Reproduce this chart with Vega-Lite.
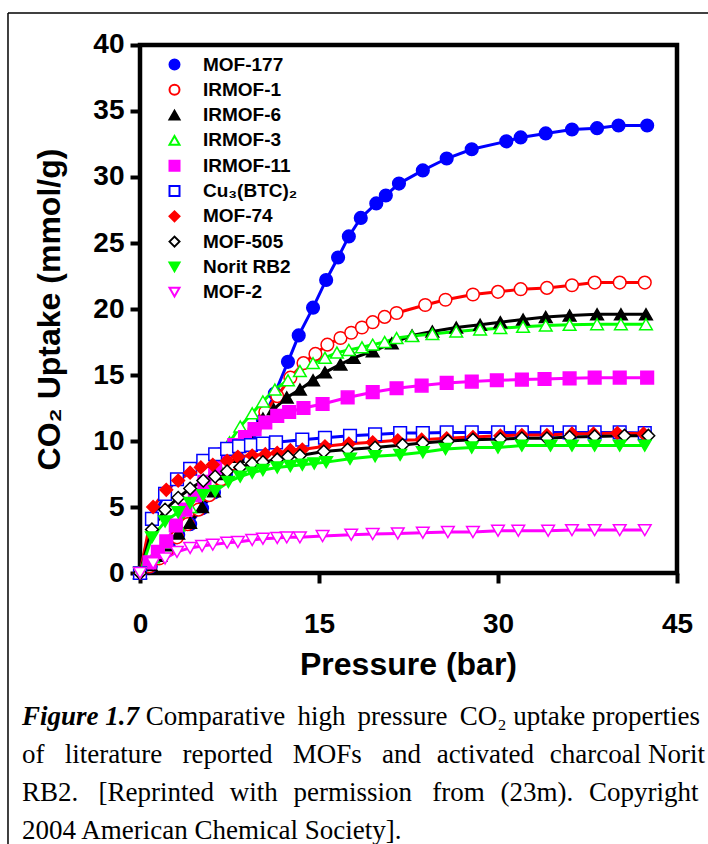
{
  "$schema": "https://vega.github.io/schema/vega-lite/v6.json",
  "width": 708,
  "height": 844,
  "autosize": {"type": "none"},
  "padding": 0,
  "background": "white",
  "config": {"view": {"stroke": null}},
  "datasets": {
    "iso": [
      {"s":"MOF-177","p":0,"u":0},{"s":"MOF-177","p":0.9,"u":0.5},{"s":"MOF-177","p":1.7,"u":1.2},{"s":"MOF-177","p":2.4,"u":2.0},{"s":"MOF-177","p":3.2,"u":2.9},{"s":"MOF-177","p":4.2,"u":3.7},{"s":"MOF-177","p":5.2,"u":4.9},{"s":"MOF-177","p":6.2,"u":6.1},{"s":"MOF-177","p":7.2,"u":7.4},{"s":"MOF-177","p":8.2,"u":8.7},{"s":"MOF-177","p":9.2,"u":10.1},{"s":"MOF-177","p":10.3,"u":11.6},{"s":"MOF-177","p":11.3,"u":13.6},{"s":"MOF-177","p":12.4,"u":16.0},{"s":"MOF-177","p":13.3,"u":18.0},{"s":"MOF-177","p":14.5,"u":20.1},{"s":"MOF-177","p":15.6,"u":22.2},{"s":"MOF-177","p":16.6,"u":23.9},{"s":"MOF-177","p":17.5,"u":25.5},{"s":"MOF-177","p":18.5,"u":26.9},{"s":"MOF-177","p":19.8,"u":28.0},{"s":"MOF-177","p":20.6,"u":28.6},{"s":"MOF-177","p":21.7,"u":29.5},{"s":"MOF-177","p":23.7,"u":30.5},{"s":"MOF-177","p":25.7,"u":31.4},{"s":"MOF-177","p":27.8,"u":32.1},{"s":"MOF-177","p":30.7,"u":32.7},{"s":"MOF-177","p":31.9,"u":33.0},{"s":"MOF-177","p":34.0,"u":33.3},{"s":"MOF-177","p":36.2,"u":33.6},{"s":"MOF-177","p":38.3,"u":33.7},{"s":"MOF-177","p":40.1,"u":33.9},{"s":"MOF-177","p":42.5,"u":33.9},
      {"s":"IRMOF-1","p":0,"u":0},{"s":"IRMOF-1","p":0.8,"u":0.5},{"s":"IRMOF-1","p":1.6,"u":1.1},{"s":"IRMOF-1","p":2.3,"u":1.8},{"s":"IRMOF-1","p":3.1,"u":2.7},{"s":"IRMOF-1","p":4.0,"u":3.7},{"s":"IRMOF-1","p":4.9,"u":4.8},{"s":"IRMOF-1","p":5.8,"u":5.9},{"s":"IRMOF-1","p":6.8,"u":7.1},{"s":"IRMOF-1","p":7.7,"u":8.3},{"s":"IRMOF-1","p":8.7,"u":9.6},{"s":"IRMOF-1","p":9.6,"u":10.9},{"s":"IRMOF-1","p":10.5,"u":12.2},{"s":"IRMOF-1","p":11.5,"u":13.4},{"s":"IRMOF-1","p":12.6,"u":14.8},{"s":"IRMOF-1","p":13.7,"u":15.9},{"s":"IRMOF-1","p":14.7,"u":16.6},{"s":"IRMOF-1","p":15.7,"u":17.3},{"s":"IRMOF-1","p":16.8,"u":17.8},{"s":"IRMOF-1","p":17.7,"u":18.2},{"s":"IRMOF-1","p":18.6,"u":18.6},{"s":"IRMOF-1","p":19.5,"u":19.0},{"s":"IRMOF-1","p":20.5,"u":19.4},{"s":"IRMOF-1","p":21.5,"u":19.7},{"s":"IRMOF-1","p":23.9,"u":20.3},{"s":"IRMOF-1","p":25.6,"u":20.7},{"s":"IRMOF-1","p":27.9,"u":21.1},{"s":"IRMOF-1","p":30.0,"u":21.3},{"s":"IRMOF-1","p":31.9,"u":21.5},{"s":"IRMOF-1","p":34.1,"u":21.6},{"s":"IRMOF-1","p":36.2,"u":21.8},{"s":"IRMOF-1","p":38.1,"u":22.0},{"s":"IRMOF-1","p":40.2,"u":22.0},{"s":"IRMOF-1","p":42.3,"u":22.0},
      {"s":"IRMOF-6","p":0,"u":0},{"s":"IRMOF-6","p":0.9,"u":0.6},{"s":"IRMOF-6","p":1.7,"u":1.3},{"s":"IRMOF-6","p":2.4,"u":2.1},{"s":"IRMOF-6","p":3.2,"u":3.0},{"s":"IRMOF-6","p":4.2,"u":3.8},{"s":"IRMOF-6","p":5.2,"u":5.0},{"s":"IRMOF-6","p":6.2,"u":6.2},{"s":"IRMOF-6","p":7.2,"u":7.5},{"s":"IRMOF-6","p":8.2,"u":8.8},{"s":"IRMOF-6","p":9.2,"u":10.2},{"s":"IRMOF-6","p":10.3,"u":11.7},{"s":"IRMOF-6","p":11.2,"u":12.4},{"s":"IRMOF-6","p":12.3,"u":13.3},{"s":"IRMOF-6","p":13.4,"u":13.9},{"s":"IRMOF-6","p":14.5,"u":14.6},{"s":"IRMOF-6","p":15.5,"u":15.2},{"s":"IRMOF-6","p":16.8,"u":15.8},{"s":"IRMOF-6","p":17.9,"u":16.3},{"s":"IRMOF-6","p":19.5,"u":16.8},{"s":"IRMOF-6","p":21.1,"u":17.4},{"s":"IRMOF-6","p":22.8,"u":18.0},{"s":"IRMOF-6","p":24.5,"u":18.3},{"s":"IRMOF-6","p":26.5,"u":18.6},{"s":"IRMOF-6","p":28.5,"u":18.8},{"s":"IRMOF-6","p":30.2,"u":19.0},{"s":"IRMOF-6","p":32.1,"u":19.2},{"s":"IRMOF-6","p":34.0,"u":19.4},{"s":"IRMOF-6","p":36.0,"u":19.5},{"s":"IRMOF-6","p":38.3,"u":19.6},{"s":"IRMOF-6","p":40.3,"u":19.6},{"s":"IRMOF-6","p":42.4,"u":19.6},
      {"s":"IRMOF-3","p":0,"u":0},{"s":"IRMOF-3","p":1.1,"u":1.2},{"s":"IRMOF-3","p":2.2,"u":2.3},{"s":"IRMOF-3","p":3.2,"u":3.6},{"s":"IRMOF-3","p":4.2,"u":5.0},{"s":"IRMOF-3","p":5.3,"u":6.6},{"s":"IRMOF-3","p":6.4,"u":8.3},{"s":"IRMOF-3","p":7.5,"u":9.9},{"s":"IRMOF-3","p":8.4,"u":11.1},{"s":"IRMOF-3","p":9.4,"u":12.1},{"s":"IRMOF-3","p":10.3,"u":13.0},{"s":"IRMOF-3","p":11.3,"u":13.9},{"s":"IRMOF-3","p":12.4,"u":14.6},{"s":"IRMOF-3","p":13.4,"u":15.3},{"s":"IRMOF-3","p":14.5,"u":15.9},{"s":"IRMOF-3","p":15.5,"u":16.3},{"s":"IRMOF-3","p":16.5,"u":16.7},{"s":"IRMOF-3","p":17.5,"u":16.9},{"s":"IRMOF-3","p":18.6,"u":17.1},{"s":"IRMOF-3","p":19.5,"u":17.3},{"s":"IRMOF-3","p":20.5,"u":17.5},{"s":"IRMOF-3","p":21.5,"u":17.8},{"s":"IRMOF-3","p":22.8,"u":17.95},{"s":"IRMOF-3","p":24.5,"u":18.1},{"s":"IRMOF-3","p":26.5,"u":18.3},{"s":"IRMOF-3","p":28.5,"u":18.45},{"s":"IRMOF-3","p":30.2,"u":18.55},{"s":"IRMOF-3","p":32.1,"u":18.65},{"s":"IRMOF-3","p":34.0,"u":18.75},{"s":"IRMOF-3","p":36.0,"u":18.8},{"s":"IRMOF-3","p":38.3,"u":18.85},{"s":"IRMOF-3","p":40.3,"u":18.85},{"s":"IRMOF-3","p":42.4,"u":18.85},
      {"s":"IRMOF-11","p":0,"u":0},{"s":"IRMOF-11","p":0.8,"u":0.8},{"s":"IRMOF-11","p":1.5,"u":1.6},{"s":"IRMOF-11","p":2.2,"u":2.4},{"s":"IRMOF-11","p":3.0,"u":3.6},{"s":"IRMOF-11","p":3.8,"u":4.8},{"s":"IRMOF-11","p":4.6,"u":5.9},{"s":"IRMOF-11","p":5.4,"u":6.9},{"s":"IRMOF-11","p":6.3,"u":8.0},{"s":"IRMOF-11","p":7.1,"u":9.0},{"s":"IRMOF-11","p":7.9,"u":9.7},{"s":"IRMOF-11","p":8.8,"u":10.3},{"s":"IRMOF-11","p":9.6,"u":10.9},{"s":"IRMOF-11","p":10.5,"u":11.4},{"s":"IRMOF-11","p":11.5,"u":11.9},{"s":"IRMOF-11","p":12.5,"u":12.2},{"s":"IRMOF-11","p":13.7,"u":12.5},{"s":"IRMOF-11","p":15.3,"u":12.8},{"s":"IRMOF-11","p":17.4,"u":13.3},{"s":"IRMOF-11","p":19.5,"u":13.7},{"s":"IRMOF-11","p":21.5,"u":14.0},{"s":"IRMOF-11","p":23.6,"u":14.2},{"s":"IRMOF-11","p":25.7,"u":14.4},{"s":"IRMOF-11","p":27.8,"u":14.5},{"s":"IRMOF-11","p":29.9,"u":14.6},{"s":"IRMOF-11","p":32.0,"u":14.65},{"s":"IRMOF-11","p":33.9,"u":14.7},{"s":"IRMOF-11","p":36.0,"u":14.75},{"s":"IRMOF-11","p":38.1,"u":14.8},{"s":"IRMOF-11","p":40.2,"u":14.8},{"s":"IRMOF-11","p":42.5,"u":14.8},
      {"s":"Cu₃(BTC)₂","p":0,"u":0},{"s":"Cu₃(BTC)₂","p":1.0,"u":4.1},{"s":"Cu₃(BTC)₂","p":2.1,"u":6.0},{"s":"Cu₃(BTC)₂","p":3.1,"u":7.1},{"s":"Cu₃(BTC)₂","p":4.2,"u":7.9},{"s":"Cu₃(BTC)₂","p":5.3,"u":8.5},{"s":"Cu₃(BTC)₂","p":6.3,"u":9.0},{"s":"Cu₃(BTC)₂","p":7.3,"u":9.4},{"s":"Cu₃(BTC)₂","p":8.3,"u":9.6},{"s":"Cu₃(BTC)₂","p":9.3,"u":9.7},{"s":"Cu₃(BTC)₂","p":10.3,"u":9.8},{"s":"Cu₃(BTC)₂","p":11.4,"u":9.9},{"s":"Cu₃(BTC)₂","p":13.6,"u":10.1},{"s":"Cu₃(BTC)₂","p":15.5,"u":10.25},{"s":"Cu₃(BTC)₂","p":17.6,"u":10.4},{"s":"Cu₃(BTC)₂","p":19.7,"u":10.5},{"s":"Cu₃(BTC)₂","p":21.8,"u":10.6},{"s":"Cu₃(BTC)₂","p":23.7,"u":10.6},{"s":"Cu₃(BTC)₂","p":25.7,"u":10.65},{"s":"Cu₃(BTC)₂","p":27.8,"u":10.65},{"s":"Cu₃(BTC)₂","p":30.0,"u":10.65},{"s":"Cu₃(BTC)₂","p":32.0,"u":10.65},{"s":"Cu₃(BTC)₂","p":34.1,"u":10.65},{"s":"Cu₃(BTC)₂","p":36.0,"u":10.65},{"s":"Cu₃(BTC)₂","p":38.1,"u":10.65},{"s":"Cu₃(BTC)₂","p":40.2,"u":10.65},{"s":"Cu₃(BTC)₂","p":42.3,"u":10.6},
      {"s":"MOF-74","p":0,"u":0},{"s":"MOF-74","p":1.1,"u":5.0},{"s":"MOF-74","p":2.2,"u":6.3},{"s":"MOF-74","p":3.2,"u":7.0},{"s":"MOF-74","p":4.2,"u":7.6},{"s":"MOF-74","p":5.1,"u":8.0},{"s":"MOF-74","p":6.1,"u":8.2},{"s":"MOF-74","p":7.3,"u":8.5},{"s":"MOF-74","p":8.2,"u":8.8},{"s":"MOF-74","p":9.4,"u":8.9},{"s":"MOF-74","p":10.5,"u":9.0},{"s":"MOF-74","p":11.5,"u":9.1},{"s":"MOF-74","p":12.6,"u":9.3},{"s":"MOF-74","p":13.6,"u":9.35},{"s":"MOF-74","p":15.5,"u":9.6},{"s":"MOF-74","p":17.5,"u":9.8},{"s":"MOF-74","p":19.5,"u":9.9},{"s":"MOF-74","p":21.6,"u":10.05},{"s":"MOF-74","p":23.6,"u":10.1},{"s":"MOF-74","p":25.7,"u":10.2},{"s":"MOF-74","p":27.9,"u":10.3},{"s":"MOF-74","p":30.2,"u":10.4},{"s":"MOF-74","p":32.0,"u":10.45},{"s":"MOF-74","p":34.1,"u":10.45},{"s":"MOF-74","p":36.2,"u":10.55},{"s":"MOF-74","p":38.0,"u":10.55},{"s":"MOF-74","p":40.0,"u":10.6},{"s":"MOF-74","p":42.2,"u":10.55},
      {"s":"MOF-505","p":0,"u":0},{"s":"MOF-505","p":1.0,"u":3.3},{"s":"MOF-505","p":2.1,"u":4.8},{"s":"MOF-505","p":3.2,"u":5.7},{"s":"MOF-505","p":4.2,"u":6.4},{"s":"MOF-505","p":5.3,"u":7.0},{"s":"MOF-505","p":6.3,"u":7.3},{"s":"MOF-505","p":7.3,"u":7.7},{"s":"MOF-505","p":8.4,"u":8.0},{"s":"MOF-505","p":9.4,"u":8.3},{"s":"MOF-505","p":10.3,"u":8.4},{"s":"MOF-505","p":11.5,"u":8.6},{"s":"MOF-505","p":12.4,"u":8.8},{"s":"MOF-505","p":13.4,"u":8.9},{"s":"MOF-505","p":15.4,"u":9.2},{"s":"MOF-505","p":17.4,"u":9.35},{"s":"MOF-505","p":19.7,"u":9.5},{"s":"MOF-505","p":22.0,"u":9.7},{"s":"MOF-505","p":23.7,"u":9.85},{"s":"MOF-505","p":25.8,"u":10.0},{"s":"MOF-505","p":27.9,"u":10.1},{"s":"MOF-505","p":30.2,"u":10.15},{"s":"MOF-505","p":32.0,"u":10.2},{"s":"MOF-505","p":34.1,"u":10.2},{"s":"MOF-505","p":36.0,"u":10.3},{"s":"MOF-505","p":38.1,"u":10.35},{"s":"MOF-505","p":40.6,"u":10.4},{"s":"MOF-505","p":42.6,"u":10.4},
      {"s":"Norit RB2","p":0,"u":0},{"s":"Norit RB2","p":1.0,"u":2.7},{"s":"Norit RB2","p":2.1,"u":3.9},{"s":"Norit RB2","p":3.2,"u":4.6},{"s":"Norit RB2","p":4.2,"u":5.3},{"s":"Norit RB2","p":5.3,"u":5.9},{"s":"Norit RB2","p":6.3,"u":6.2},{"s":"Norit RB2","p":7.4,"u":6.9},{"s":"Norit RB2","p":8.4,"u":7.3},{"s":"Norit RB2","p":9.4,"u":7.6},{"s":"Norit RB2","p":10.3,"u":7.8},{"s":"Norit RB2","p":11.5,"u":8.0},{"s":"Norit RB2","p":12.6,"u":8.1},{"s":"Norit RB2","p":13.6,"u":8.2},{"s":"Norit RB2","p":14.6,"u":8.3},{"s":"Norit RB2","p":15.6,"u":8.4},{"s":"Norit RB2","p":17.6,"u":8.65},{"s":"Norit RB2","p":19.7,"u":8.85},{"s":"Norit RB2","p":21.8,"u":8.95},{"s":"Norit RB2","p":23.7,"u":9.15},{"s":"Norit RB2","p":25.6,"u":9.4},{"s":"Norit RB2","p":27.8,"u":9.5},{"s":"Norit RB2","p":30.0,"u":9.5},{"s":"Norit RB2","p":32.0,"u":9.65},{"s":"Norit RB2","p":34.4,"u":9.65},{"s":"Norit RB2","p":36.2,"u":9.65},{"s":"Norit RB2","p":38.1,"u":9.65},{"s":"Norit RB2","p":40.2,"u":9.65},{"s":"Norit RB2","p":42.3,"u":9.65},
      {"s":"MOF-2","p":0,"u":0},{"s":"MOF-2","p":1.1,"u":0.75},{"s":"MOF-2","p":2.1,"u":1.1},{"s":"MOF-2","p":3.1,"u":1.6},{"s":"MOF-2","p":4.2,"u":1.9},{"s":"MOF-2","p":5.2,"u":2.05},{"s":"MOF-2","p":6.1,"u":2.15},{"s":"MOF-2","p":7.3,"u":2.3},{"s":"MOF-2","p":8.2,"u":2.35},{"s":"MOF-2","p":9.4,"u":2.5},{"s":"MOF-2","p":10.3,"u":2.6},{"s":"MOF-2","p":11.5,"u":2.65},{"s":"MOF-2","p":12.3,"u":2.7},{"s":"MOF-2","p":13.4,"u":2.7},{"s":"MOF-2","p":15.3,"u":2.8},{"s":"MOF-2","p":17.7,"u":2.9},{"s":"MOF-2","p":19.5,"u":2.95},{"s":"MOF-2","p":21.6,"u":3.0},{"s":"MOF-2","p":23.7,"u":3.05},{"s":"MOF-2","p":25.8,"u":3.1},{"s":"MOF-2","p":27.9,"u":3.1},{"s":"MOF-2","p":30.0,"u":3.2},{"s":"MOF-2","p":31.7,"u":3.2},{"s":"MOF-2","p":34.2,"u":3.2},{"s":"MOF-2","p":36.2,"u":3.25},{"s":"MOF-2","p":38.1,"u":3.25},{"s":"MOF-2","p":40.2,"u":3.25},{"s":"MOF-2","p":42.3,"u":3.25}
    ]
  },
  "layer": [
    {
      "data": {"values": [{}]},
      "mark": {"type": "rule", "stroke": "black", "strokeWidth": 1.5},
      "encoding": {
        "x": {"datum": -11.062, "type": "quantitative", "scale": {"domain": [-11.732, 47.598], "nice": false, "zero": false},
          "axis": {"orient": "bottom", "offset": -271, "values": [0, 15, 30, 45], "domain": false, "grid": false,
            "tickSize": 10, "tickWidth": 4, "tickColor": "black",
            "labelFont": "Liberation Sans", "labelFontSize": 28, "labelFontWeight": "bold", "labelColor": "black", "labelPadding": 27, "labelFlush": false, "labelOverlap": false,
            "title": "Pressure (bar)", "titleFont": "Liberation Sans", "titleFontSize": 32, "titleFontWeight": "bold", "titleColor": "black",
            "titleX": 408, "titleY": 101, "titleAlign": "center", "titleBaseline": "alphabetic"}},
        "y": {"datum": -20.53, "type": "quantitative", "scale": {"domain": [-20.53, 43.409], "nice": false, "zero": false},
          "axis": {"orient": "left", "offset": -140, "values": [0, 5, 10, 15, 20, 25, 30, 35, 40], "domain": false, "grid": false,
            "tickSize": 10, "tickWidth": 4, "tickColor": "black",
            "labelFont": "Liberation Sans", "labelFontSize": 28, "labelFontWeight": "bold", "labelColor": "black", "labelPadding": 6, "labelOverlap": false,
            "title": "CO₂ Uptake (mmol/g)", "titleFont": "Liberation Sans", "titleFontSize": 32, "titleFontWeight": "bold", "titleColor": "black",
            "titleX": -81, "titleY": 309, "titleAngle": -90, "titleAlign": "center", "titleBaseline": "alphabetic"}},
        "y2": {"datum": 42.424}
      }
    },
    {
      "data": {"values": [{}]},
      "mark": {"type": "rule", "stroke": "black", "strokeWidth": 1.5},
      "encoding": {
        "x": {"datum": -11.062, "type": "quantitative"},
        "x2": {"datum": 47.598},
        "y": {"datum": 42.424, "type": "quantitative"}
      }
    },
    {
      "data": {"values": [{}]},
      "mark": {"type": "rect", "fillOpacity": 0, "stroke": "black", "strokeWidth": 4.5},
      "encoding": {
        "x": {"datum": 0, "type": "quantitative"},
        "x2": {"datum": 45},
        "y": {"datum": 0, "type": "quantitative"},
        "y2": {"datum": 40}
      }
    },
    {
      "data": {"name": "iso"},
      "mark": {"type": "line", "strokeWidth": 3},
      "encoding": {
        "x": {"field": "p", "type": "quantitative"},
        "y": {"field": "u", "type": "quantitative"},
        "stroke": {"field": "s", "type": "nominal",
          "scale": {"domain": ["MOF-177","IRMOF-1","IRMOF-6","IRMOF-3","IRMOF-11","Cu₃(BTC)₂","MOF-74","MOF-505","Norit RB2","MOF-2"],
                    "range": ["#0000ff","#ff0000","#000000","#00ff00","#ff00ff","#0000ff","#ff0000","#000000","#00ff00","#ff00ff"]}}
      }
    },
    {
      "data": {"name": "iso"},
      "mark": {"type": "point", "filled": true, "opacity": 1, "size": 160, "strokeWidth": 1.5},
      "encoding": {
        "x": {"field": "p", "type": "quantitative"},
        "y": {"field": "u", "type": "quantitative"},
        "stroke": {"field": "s", "type": "nominal"},
        "fill": {"field": "s", "type": "nominal",
          "scale": {"domain": ["MOF-177","IRMOF-1","IRMOF-6","IRMOF-3","IRMOF-11","Cu₃(BTC)₂","MOF-74","MOF-505","Norit RB2","MOF-2"],
                    "range": ["#0000ff","#ffffff","#000000","#ffffff","#ff00ff","#ffffff","#ff0000","#ffffff","#00ff00","#ffffff"]}},
        "shape": {"field": "s", "type": "nominal",
          "scale": {"domain": ["MOF-177","IRMOF-1","IRMOF-6","IRMOF-3","IRMOF-11","Cu₃(BTC)₂","MOF-74","MOF-505","Norit RB2","MOF-2"],
                    "range": ["circle","circle","triangle-up","triangle-up","square","square","diamond","diamond","triangle-down","triangle-down"]},
          "legend": {"orient": "none", "legendX": 165, "legendY": 55, "title": null, "padding": 0,
            "symbolSize": 100, "symbolStrokeWidth": 2,
            "labelFont": "Liberation Sans", "labelFontSize": 19, "labelFontWeight": "bold", "labelColor": "black",
            "labelOffset": 19, "rowPadding": 5.3}}
      }
    },
    {
      "data": {"values": [{"t": "Figure 1.7"}]},
      "mark": {"type": "text", "align": "left", "baseline": "alphabetic", "font": "Liberation Serif", "fontSize": 27, "fontStyle": "italic", "fontWeight": "bold", "color": "black"},
      "encoding": {
        "x": {"datum": -9.889, "type": "quantitative"},
        "y": {"datum": -11.515, "type": "quantitative"},
        "text": {"field": "t"}
      }
    },
    {
      "data": {"values": [{"t": "Comparative \u2009high \u2009pressure \u2009CO₂ uptake properties"}]},
      "mark": {"type": "text", "align": "right", "baseline": "alphabetic", "font": "Liberation Serif", "fontSize": 27, "color": "black"},
      "encoding": {
        "x": {"datum": 46.929, "type": "quantitative"},
        "y": {"datum": -11.515, "type": "quantitative"},
        "text": {"field": "t"}
      }
    },
    {
      "data": {"values": [{"t": "of \u2002literature \u2002reported \u2002MOFs \u2002and \u2004activated \u2004charcoal Norit"}]},
      "mark": {"type": "text", "align": "left", "baseline": "alphabetic", "font": "Liberation Serif", "fontSize": 27, "color": "black"},
      "encoding": {
        "x": {"datum": -9.889, "type": "quantitative"},
        "y": {"datum": -14.394, "type": "quantitative"},
        "text": {"field": "t"}
      }
    },
    {
      "data": {"values": [{"t": "RB2. \u2002[Reprinted \u2004with \u2004permission \u2002from \u2004(23m). \u2004Copyright"}]},
      "mark": {"type": "text", "align": "left", "baseline": "alphabetic", "font": "Liberation Serif", "fontSize": 27, "color": "black"},
      "encoding": {
        "x": {"datum": -9.889, "type": "quantitative"},
        "y": {"datum": -17.273, "type": "quantitative"},
        "text": {"field": "t"}
      }
    },
    {
      "data": {"values": [{"t": "2004 American Chemical Society]."}]},
      "mark": {"type": "text", "align": "left", "baseline": "alphabetic", "font": "Liberation Serif", "fontSize": 27, "color": "black"},
      "encoding": {
        "x": {"datum": -9.889, "type": "quantitative"},
        "y": {"datum": -20.152, "type": "quantitative"},
        "text": {"field": "t"}
      }
    }
  ]
}
